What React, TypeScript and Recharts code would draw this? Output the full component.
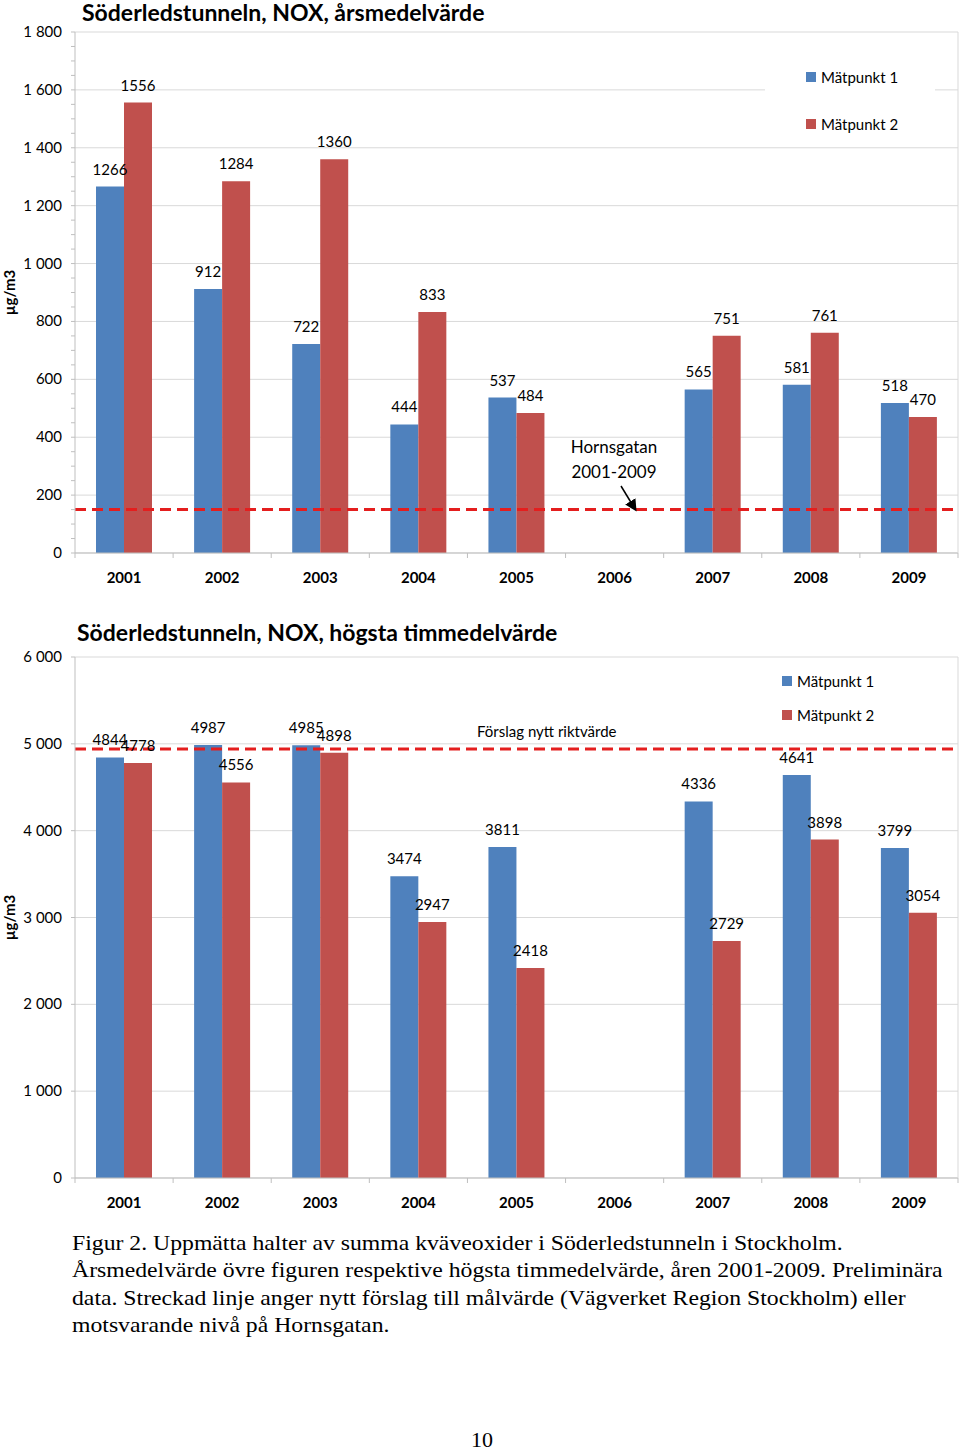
import { BarChart, Bar, XAxis, YAxis, CartesianGrid, ReferenceLine, LabelList, Legend } from 'recharts';

// Årtal och mätvärden (µg/m3), 2006 saknas
const YEARS = ['2001', '2002', '2003', '2004', '2005', '2006', '2007', '2008', '2009'];
const MEDEL_P1 = [1266, 912, 722, 444, 537, null, 565, 581, 518];
const MEDEL_P2 = [1556, 1284, 1360, 833, 484, null, 751, 761, 470];
const TIMMAX_P1 = [4844, 4987, 4985, 3474, 3811, null, 4336, 4641, 3799];
const TIMMAX_P2 = [4778, 4556, 4898, 2947, 2418, null, 2729, 3898, 3054];

const MEDEL_TICKS = [0, 200, 400, 600, 800, 1000, 1200, 1400, 1600, 1800];
const MEDEL_MINOR = Array.from({ length: 37 }, (_, i) => i * 50);
const TIMMAX_TICKS = [0, 1000, 2000, 3000, 4000, 5000, 6000];

const HORNSGATAN = 150;
const RIKTVARDE = 4940;

const SERIES = [
  { key: 'p1', name: 'Mätpunkt 1', color: '#4F81BD' },
  { key: 'p2', name: 'Mätpunkt 2', color: '#C0504D' },
];

const FONT = 'Lato, "Open Sans", sans-serif';
const SERIF = '"Liberation Serif", "DejaVu Serif", serif';
const DASH_RED = '#E41E1E';
const GRID = '#d9d9d9';
const AXIS = '#bfbfbf';

const CHART_W = 960;
const CHART_H = 600;
const MARGIN = { top: 32, right: 0, left: 0, bottom: 7 };
const Y_W = 75;
const PLOT_W = CHART_W - Y_W - 2;
const BAND = PLOT_W / YEARS.length;

const medelData = YEARS.map((year, i) => ({ year, p1: MEDEL_P1[i], p2: MEDEL_P2[i] }));
const timmaxData = YEARS.map((year, i) => ({ year, p1: TIMMAX_P1[i], p2: TIMMAX_P2[i] }));

const fmt = (v: number) =>
  v >= 1000 ? `${Math.floor(v / 1000)} ${String(v % 1000).padStart(3, '0')}` : String(v);

function YTick(props: any, majors: number[]) {
  const { x, y, payload } = props;
  const major = majors.includes(payload.value);
  return (
    <g>
      <line x1={x - 4} x2={x} y1={y} y2={y} stroke={AXIS} />
      {major && (
        <text x={x - 13} y={y} dy={5} textAnchor="end" fontSize={15} fill="#000" fontFamily={FONT}>
          {fmt(payload.value)}
        </text>
      )}
    </g>
  );
}

function YearTick(props: any) {
  const { x, y, payload, index } = props;
  const half = BAND / 2;
  return (
    <g>
      <line x1={x - half} x2={x - half} y1={y} y2={y + 5} stroke={AXIS} />
      {index === YEARS.length - 1 && <line x1={x + half} x2={x + half} y1={y} y2={y + 5} stroke={AXIS} />}
      <text x={x} y={y} dy={30} textAnchor="middle" fontSize={15} fontWeight="bold" fill="#000" fontFamily={FONT}>
        {payload.value}
      </text>
    </g>
  );
}

function UnitLabel(props: any) {
  const { viewBox } = props;
  const cy = viewBox.y + viewBox.height / 2;
  return (
    <text x={15} y={cy} transform={`rotate(-90 15 ${cy})`} textAnchor="middle" fontSize={15} fontWeight="bold" fill="#000" fontFamily={FONT}>
      µg/m3
    </text>
  );
}

function LegendBox({ payload, gap }: any) {
  return (
    <div style={{ display: 'flex', flexDirection: 'column', gap, fontFamily: FONT, fontSize: 15 }}>
      {(payload || []).map((p: any) => (
        <div key={p.value} style={{ display: 'flex', alignItems: 'center', height: 20, gap: 5 }}>
          <span style={{ width: 10, height: 10, background: p.color, display: 'inline-block' }} />
          <span style={{ color: '#000' }}>{p.value}</span>
        </div>
      ))}
    </div>
  );
}

function NoxChart({ data, domain, ticks, minor, refValue, legendStyle, legendGap }: any) {
  return (
    <BarChart width={CHART_W} height={CHART_H} data={data} margin={MARGIN} barSize={28} barGap={0}>
      <CartesianGrid vertical={false} stroke={GRID} horizontalValues={ticks} />
      <XAxis
        dataKey="year"
        height={40}
        tickSize={0}
        tickMargin={0}
        tickLine={false}
        axisLine={{ stroke: AXIS }}
        tick={YearTick}
        interval={0}
      />
      <YAxis
        width={Y_W}
        domain={domain}
        ticks={minor || ticks}
        interval={0}
        tickSize={0}
        tickMargin={0}
        tickLine={false}
        axisLine={{ stroke: AXIS }}
        tick={(p: any) => YTick(p, ticks)}
        label={<UnitLabel />}
      />
      <YAxis yAxisId="kant" orientation="right" width={2} domain={[0, 1]} tick={false} tickLine={false} axisLine={{ stroke: GRID }} />
      <Legend
        layout="vertical"
        align="center"
        verticalAlign="middle"
        wrapperStyle={legendStyle}
        content={(p: any) => <LegendBox payload={p.payload} gap={legendGap} />}
      />
      {SERIES.map((s) => (
        <Bar key={s.key} dataKey={s.key} name={s.name} fill={s.color} isAnimationActive={false}>
          <LabelList dataKey={s.key} position="top" offset={12} fontSize={15} fill="#000" fontFamily={FONT} />
        </Bar>
      ))}
      <ReferenceLine y={refValue} stroke={DASH_RED} strokeWidth={3} strokeDasharray="11 6" />
    </BarChart>
  );
}

export default function App() {
  return (
    <div style={{ position: 'absolute', left: 0, top: 0, width: 960, height: 1452, background: '#fff', fontFamily: FONT }}>
      {/* Övre figuren: årsmedelvärde */}
      <div style={{ position: 'absolute', left: 0, top: 0 }}>
        <NoxChart
          data={medelData}
          domain={[0, 1800]}
          ticks={MEDEL_TICKS}
          minor={MEDEL_MINOR}
          refValue={HORNSGATAN}
          legendGap={27}
          legendStyle={{ top: 57, left: 765, width: 170, height: 83, background: '#fff', paddingTop: 10, paddingLeft: 41, boxSizing: 'border-box' }}
        />
      </div>
      <div style={{ position: 'absolute', left: 82, top: 0, fontSize: 23, fontWeight: 'bold', lineHeight: '24px', color: '#000', whiteSpace: 'nowrap' }}>
        Söderledstunneln, NOX, årsmedelvärde
      </div>
      <div style={{ position: 'absolute', left: 514, top: 434, width: 200, textAlign: 'center', fontSize: 17, lineHeight: '25px', color: '#000' }}>
        Hornsgatan
        <br />
        2001-2009
      </div>
      <svg style={{ position: 'absolute', left: 610, top: 480 }} width={40} height={40}>
        <defs>
          <marker id="pil" markerWidth="8" markerHeight="8" refX="6" refY="4" orient="auto">
            <path d="M0,0 L8,4 L0,8 z" fill="#000" />
          </marker>
        </defs>
        <line x1={11} y1={6} x2={25} y2={29} stroke="#000" strokeWidth={1.5} markerEnd="url(#pil)" />
      </svg>

      {/* Nedre figuren: högsta timmedelvärde */}
      <div style={{ position: 'absolute', left: 0, top: 625 }}>
        <NoxChart
          data={timmaxData}
          domain={[0, 6000]}
          ticks={TIMMAX_TICKS}
          refValue={RIKTVARDE}
          legendGap={14}
          legendStyle={{ top: 36, left: 775, width: 170, height: 70, paddingTop: 10, paddingLeft: 7, boxSizing: 'border-box' }}
        />
      </div>
      <div style={{ position: 'absolute', left: 77, top: 620, fontSize: 23, fontWeight: 'bold', lineHeight: '24px', color: '#000', whiteSpace: 'nowrap' }}>
        Söderledstunneln, NOX, högsta timmedelvärde
      </div>
      <div style={{ position: 'absolute', left: 477, top: 721, fontSize: 15, lineHeight: '20px', color: '#000', whiteSpace: 'nowrap' }}>
        Förslag nytt riktvärde
      </div>

      {/* Figurtext */}
      <div
        style={{
          position: 'absolute', left: 72, top: 1229, fontFamily: SERIF, fontSize: 22, lineHeight: '27.3px',
          color: '#000', whiteSpace: 'nowrap', transform: 'scaleX(1.078)', transformOrigin: 'left top',
        }}
      >
        Figur 2. Uppmätta halter av summa kväveoxider i Söderledstunneln i Stockholm.
        <br />
        Årsmedelvärde övre figuren respektive högsta timmedelvärde, åren 2001-2009. Preliminära
        <br />
        data. Streckad linje anger nytt förslag till målvärde (Vägverket Region Stockholm) eller
        <br />
        motsvarande nivå på Hornsgatan.
      </div>
      <div style={{ position: 'absolute', left: 0, top: 1426, width: 964, textAlign: 'center', fontFamily: SERIF, fontSize: 22, lineHeight: '28px', color: '#000' }}>
        10
      </div>
    </div>
  );
}
